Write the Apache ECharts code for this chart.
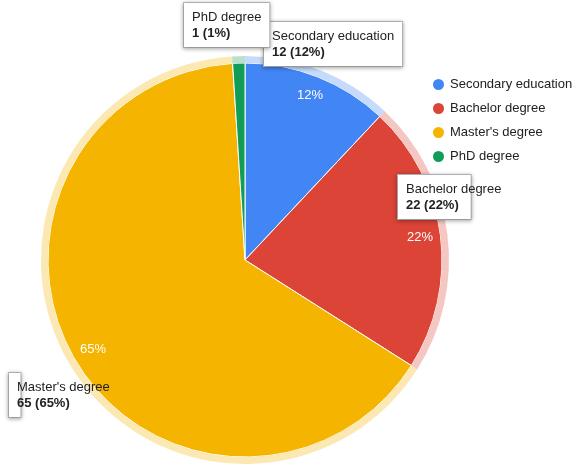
<!DOCTYPE html>
<html><head><meta charset="utf-8">
<script src="https://cdn.jsdelivr.net/npm/echarts@6/dist/echarts.min.js"></script>
<style>html,body{margin:0;background:#fff}#main{width:580px;height:468px}</style>
</head><body><div id="main"></div>
<script>
const categories = ['Secondary education', 'Bachelor degree', "Master's degree", 'PhD degree']
const values = [12, 22, 65, 1]
const colors = ['#4285f4', '#db4437', '#f4b400', '#0f9d58']
const haloColors = ['rgba(66,133,244,0.3)', 'rgba(219,68,55,0.3)', 'rgba(244,180,0,0.3)', 'rgba(15,157,88,0.3)']
// callout boxes, top-left corners
const calloutPos = [[264, 22], [398, 175], [9, 373], [184, 3]]

const total = values.reduce((a, b) => a + b, 0)
const pct = v => Math.round(v / total * 100) + '%'
const mk = cols => categories.map((c, i) => ({ name: c, value: values[i], itemStyle: { color: cols[i] } }))

const chart = echarts.init(document.getElementById('main'))
chart.setOption({
  animation: false,
  textStyle: { fontFamily: 'Arial, Liberation Sans, sans-serif' },
  legend: {
    orient: 'vertical', left: 426, top: 72, icon: 'circle',
    itemWidth: 13, itemHeight: 13, itemGap: 9,
    textStyle: { fontSize: 13, color: '#222' },
    data: categories
  },
  series: [
    {
      type: 'pie', center: [245, 260], radius: [0, 197], startAngle: 90,
      data: mk(colors),
      itemStyle: { borderColor: '#fff', borderWidth: 1 },
      label: { show: false },
      labelLine: { show: false },
      emphasis: { disabled: true }
    },
    {
      type: 'pie', center: [245, 260], radius: [150, 197], startAngle: 90,
      silent: true, legendHoverLink: false,
      data: mk(colors.map(() => 'transparent')),
      label: {
        show: true, position: 'inside', color: '#fff', fontSize: 13,
        formatter: p => p.value >= 5 ? pct(p.value) : ''
      },
      labelLine: { show: false }
    },
    {
      type: 'pie', center: [245, 260], radius: [197, 204], startAngle: 90,
      silent: true, legendHoverLink: false, z: 3,
      data: mk(haloColors),
      labelLine: { show: false },
      label: {
        show: true, position: 'outside', overflow: 'none',
        formatter: p => p.name + '\n{b|' + p.value + ' (' + pct(p.value) + ')}',
        backgroundColor: '#fff', borderColor: '#bbb', borderWidth: 1,
        shadowColor: 'rgba(0,0,0,0.3)', shadowBlur: 4, shadowOffsetY: 1,
        padding: [6, 8], color: '#222', fontSize: 13, lineHeight: 16, align: 'left',
        rich: { b: { fontWeight: 'bold', fontSize: 13, color: '#222', lineHeight: 16 } }
      },
      labelLayout: p => ({ x: calloutPos[p.dataIndex][0], y: calloutPos[p.dataIndex][1], align: 'left', verticalAlign: 'top', hideOverlap: false })
    }
  ]
})
</script></body></html>
